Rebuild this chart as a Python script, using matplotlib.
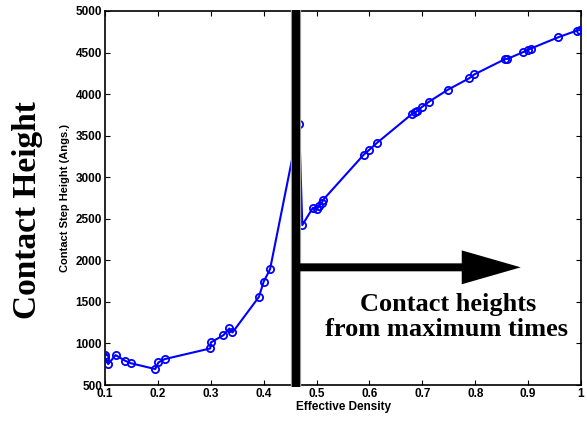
import numpy as np
import matplotlib
matplotlib.use('Agg')
import matplotlib.pyplot as plt
from matplotlib.patches import FancyArrow

# effective density vs contact step height
density = [0.100, 0.100, 0.100, 0.106, 0.120, 0.138, 0.150, 0.195, 0.201,
           0.213, 0.299, 0.300, 0.324, 0.335, 0.341, 0.391, 0.400, 0.412,
           0.467, 0.473, 0.493, 0.500, 0.505, 0.510, 0.513, 0.589, 0.600,
           0.614, 0.681, 0.686, 0.690, 0.699, 0.712, 0.748, 0.789, 0.798,
           0.856, 0.861, 0.890, 0.900, 0.905, 0.957, 0.992, 0.999]
height = [860, 840, 820, 752, 860, 792, 760, 692, 772,
          812, 940, 1012, 1100, 1180, 1132, 1560, 1744, 1892,
          3640, 2424, 2632, 2612, 2652, 2692, 2732, 3270, 3332,
          3412, 3764, 3780, 3796, 3844, 3906, 4052, 4192, 4236,
          4420, 4424, 4504, 4532, 4548, 4684, 4764, 4772]

xticks = np.round(np.arange(0.1, 1.01, 0.1), 1)
xticklabels = ['0.1', '0.2', '0.3', '0.4', '0.5', '0.6', '0.7', '0.8', '0.9', '1']
yticks = list(range(500, 5001, 500))

cutoff = 0.461        # thick vertical marker
arrow_y = 1916
arrow_tip = 0.886

plt.rcParams['font.family'] = ['Liberation Sans', 'DejaVu Sans']
plt.rcParams['font.weight'] = 'bold'

fig = plt.figure(figsize=(5.87, 4.23), dpi=100)
ax = fig.add_axes([0.1789, 0.0898, 0.8109, 0.8842])

ax.plot(density, height, '-o', color='#0000ff', lw=1.5, ms=5.2,
        mfc='none', mec='#0000ff', mew=1.3, zorder=3)

ax.set_xlim(0.1, 1.0)
ax.set_ylim(500, 5000)
ax.set_xticks(xticks)
ax.set_xticklabels(xticklabels)
ax.set_yticks(yticks)
ax.tick_params(direction='in', length=3.5, width=0.8, top=True, right=True,
               labelsize=8.5, pad=2)
for lab in ax.get_xticklabels() + ax.get_yticklabels():
    lab.set_fontweight('bold')
for sp in ax.spines.values():
    sp.set_linewidth(1.2)

ax.set_xlabel('Effective Density', fontsize=8.5, fontweight='bold', labelpad=1)
ax.set_ylabel('Contact Step Height (Angs.)', fontsize=8, fontweight='bold',
              labelpad=4)

# vertical bar
ax.plot([cutoff, cutoff], [480, 5010], color='#bbbbbb', lw=7.4,
        solid_capstyle='butt', clip_on=False, zorder=4)
ax.plot([cutoff, cutoff], [480, 5010], color='black', lw=6,
        solid_capstyle='butt', clip_on=False, zorder=5)

# arrow
arr = FancyArrow(cutoff, arrow_y, arrow_tip - cutoff, 0, width=96,
                 head_width=408, head_length=0.1115,
                 length_includes_head=True, color='black', lw=0, zorder=5)
ax.add_patch(arr)

serif = ['Liberation Serif', 'DejaVu Serif']
ax.text(0.748, 1388, 'Contact heights', family=serif, fontsize=19,
        fontweight='bold', ha='center', va='baseline')
ax.text(0.746, 1088, 'from maximum times', family=serif,
        fontsize=19, fontweight='bold', ha='center', va='baseline')

fig.text(0.046, 0.5035, 'Contact Height', family=serif, fontsize=24,
         fontweight='bold', rotation=90, ha='center', va='center')

fig.savefig('out.png', dpi=100)
